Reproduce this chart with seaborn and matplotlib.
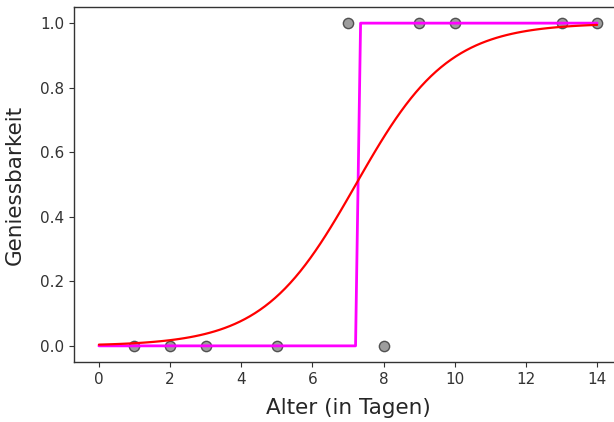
import numpy as np
import pandas as pd
import matplotlib
matplotlib.use("Agg")
import matplotlib.pyplot as plt
import seaborn as sns

# Observations: age in days and whether the item was still edible (1) or not (0)
alter = [1, 2, 3, 5, 7, 8, 9, 10, 13, 14]
geniessbar = [0, 0, 0, 0, 1, 0, 1, 1, 1, 1]

# Fitted logistic model: midpoint and slope
mitte = 7.22
steigung = 0.77

x_ticks = [0, 2, 4, 6, 8, 10, 12, 14]
y_ticks = [0.0, 0.2, 0.4, 0.6, 0.8, 1.0]

sns.set_style("ticks")
plt.rcParams["font.family"] = ["DejaVu Sans"]

fig = plt.figure(figsize=(6.14, 4.22), dpi=100)
ax = fig.add_axes([74 / 614, 1 - 362 / 422, (622 - 74) / 614, (362 - 7) / 422])

punkte = pd.DataFrame({"Alter": alter, "Geniessbar": geniessbar})
sns.scatterplot(data=punkte, x="Alter", y="Geniessbar", ax=ax, s=55,
                color="#858585", edgecolor="#333333", linewidth=1.0, alpha=0.8,
                zorder=2)

raster = np.linspace(min(x_ticks), max(x_ticks), 100)
wahrscheinlichkeit = 1 / (1 + np.exp(-steigung * (raster - mitte)))
klasse = (wahrscheinlichkeit >= 0.5).astype(float)

kurven = pd.DataFrame({"x": raster, "p": wahrscheinlichkeit, "k": klasse})
sns.lineplot(data=kurven, x="x", y="k", ax=ax, color="magenta", linewidth=2,
             zorder=3)
sns.lineplot(data=kurven, x="x", y="p", ax=ax, color="red", linewidth=1.6,
             zorder=4)

ax.set_xlim(-0.7, 14.7)
ax.set_ylim(-0.05, 1.05)
ax.set_xticks(x_ticks)
ax.set_yticks(y_ticks)
ax.set_yticklabels([f"{v:.1f}" for v in y_ticks])
ax.tick_params(labelsize=11, length=3.5, width=0.8, colors="#333333",
               labelcolor="#333333")
for sp in ax.spines.values():
    sp.set_color("#333333")
    sp.set_linewidth(1.0)

ax.set_xlabel("Alter (in Tagen)", fontsize=15.5, color="#262626", labelpad=8)
ax.set_ylabel("Geniessbarkeit", fontsize=15.5, color="#262626", labelpad=11)

fig.savefig("out.png", dpi=100)
